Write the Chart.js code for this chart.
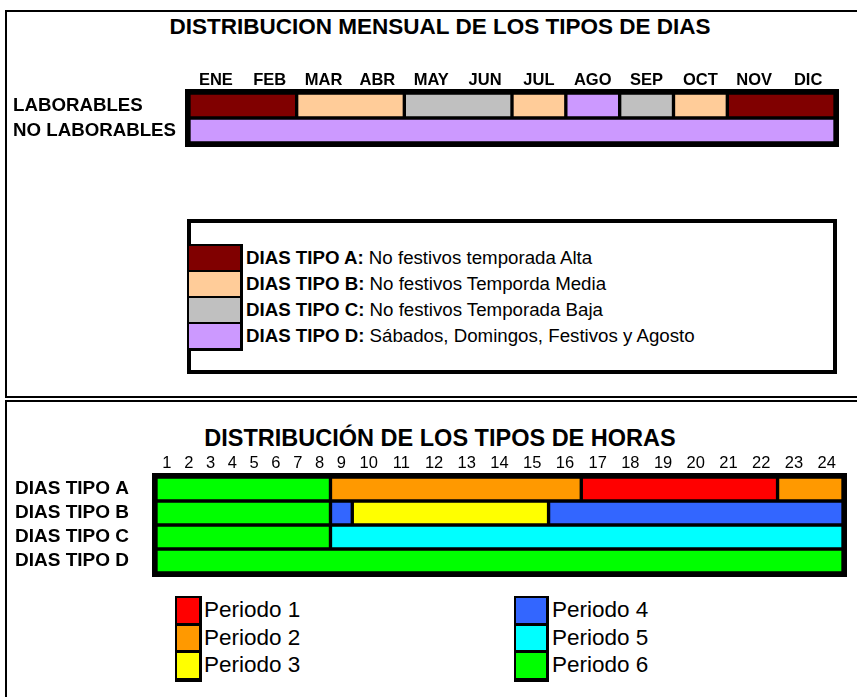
<!DOCTYPE html>
<html>
<head>
<meta charset="utf-8">
<script src="https://cdn.jsdelivr.net/npm/chart.js@4"></script>
<style>
  body { margin: 0; width: 857px; height: 697px; overflow: hidden; background: #fff; position: relative;
         font-family: 'Liberation Sans', Arial, sans-serif; }
  .panel { position: absolute; border: 2px solid #000; box-sizing: border-box; }
  canvas { position: absolute; left: 0; }
  .titulo { position: absolute; left: 0; width: 880px; text-align: center; font-weight: bold;
            font-size: 22.5px; line-height: 22.5px; white-space: nowrap; }
  #leyendaDias { position: absolute; left: 187px; top: 219px; width: 650px; height: 155px;
                 border: 4px solid #000; box-sizing: border-box; }
  .columna { position: absolute; background: #000; }
  .muestra { position: absolute; }
  .texto { position: absolute; white-space: nowrap; color: #000; }
</style>
</head>
<body>
<div class="panel" style="left:5px; top:10px; width:900px; height:388px;"></div>
<div class="panel" style="left:5px; top:400px; width:900px; height:400px;"></div>

<div class="titulo" style="top:16px;">DISTRIBUCION MENSUAL DE LOS TIPOS DE DIAS</div>
<canvas id="grafico-dias" width="857" height="160" style="top:0px;"></canvas>
<div id="leyendaDias"></div>
<div id="leyendaDiasItems"></div>

<div class="titulo" style="top:427px; font-size:23.5px; line-height:23.5px;">DISTRIBUCIÓN DE LOS TIPOS DE HORAS</div>
<canvas id="grafico-horas" width="857" height="190" style="top:400px;"></canvas>
<div id="leyendaHoras"></div>

<script>
// ---- datos: distribucion mensual de los tipos de dias ----
const meses = ['ENE', 'FEB', 'MAR', 'ABR', 'MAY', 'JUN', 'JUL', 'AGO', 'SEP', 'OCT', 'NOV', 'DIC'];
const filasDias = ['LABORABLES', 'NO LABORABLES'];
const tiposDia = ['DIAS TIPO A:', 'DIAS TIPO B:', 'DIAS TIPO C:', 'DIAS TIPO D:'];
const descTiposDia = ['No festivos temporada Alta', 'No festivos Temporda Media',
                      'No festivos Temporada Baja', 'Sábados, Domingos, Festivos y Agosto'];
const coloresDia = ['#800000', '#FFCC99', '#C0C0C0', '#CC99FF'];
// tramos: [fila, mes inicio, mes fin] (meses 1..12, inclusivos)
const tramosTipoA = [['LABORABLES', 1, 2], ['LABORABLES', 11, 12]];
const tramosTipoB = [['LABORABLES', 3, 4], ['LABORABLES', 7, 7], ['LABORABLES', 10, 10]];
const tramosTipoC = [['LABORABLES', 5, 6], ['LABORABLES', 9, 9]];
const tramosTipoD = [['LABORABLES', 8, 8], ['NO LABORABLES', 1, 12]];

// ---- datos: distribucion de los tipos de horas ----
const horas = ['1', '2', '3', '4', '5', '6', '7', '8', '9', '10', '11', '12',
               '13', '14', '15', '16', '17', '18', '19', '20', '21', '22', '23', '24'];
const filasHoras = ['DIAS TIPO A', 'DIAS TIPO B', 'DIAS TIPO C', 'DIAS TIPO D'];
const periodos = ['Periodo 1', 'Periodo 2', 'Periodo 3', 'Periodo 4', 'Periodo 5', 'Periodo 6'];
const coloresPeriodo = ['#FF0000', '#FF9900', '#FFFF00', '#3366FF', '#00FFFF', '#00FF00'];
// tramos: [fila, hora inicio, hora fin] (horas 1..24, inclusivas)
const tramosP1 = [['DIAS TIPO A', 17, 22]];
const tramosP2 = [['DIAS TIPO A', 9, 16], ['DIAS TIPO A', 23, 24]];
const tramosP3 = [['DIAS TIPO B', 10, 15]];
const tramosP4 = [['DIAS TIPO B', 9, 9], ['DIAS TIPO B', 16, 24]];
const tramosP5 = [['DIAS TIPO C', 9, 24]];
const tramosP6 = [['DIAS TIPO A', 1, 8], ['DIAS TIPO B', 1, 8], ['DIAS TIPO C', 1, 8], ['DIAS TIPO D', 1, 24]];

Chart.defaults.font.family = "'Liberation Sans', Arial, sans-serif";
Chart.defaults.color = '#000';

// marco negro grueso alrededor del area de barras
const marcoNegro = {
    id: 'marcoNegro',
    beforeDatasetsDraw(chart) {
        const a = chart.chartArea;
        const ctx = chart.ctx;
        ctx.save();
        ctx.fillStyle = '#000';
        ctx.fillRect(a.left - 4, a.top - 4, a.right - a.left + 8, a.bottom - a.top + 8);
        ctx.restore();
    }
};

const barraBase = {
    borderColor: '#000',
    borderWidth: 2,
    borderSkipped: false,
    barPercentage: 1,
    categoryPercentage: 1,
    grouped: false
};

// grafico 1: meses (cada mes ocupa una unidad del eje)
function tramosMeses(tramos) {
    return tramos.map(t => ({ y: t[0], x: [t[1] - 1, t[2]] }));
}
const tramosDia = [tramosTipoA, tramosTipoB, tramosTipoC, tramosTipoD];

new Chart(document.getElementById('grafico-dias'), {
    type: 'bar',
    data: {
        labels: filasDias,
        datasets: tramosDia.map((t, i) => ({
            ...barraBase,
            label: tiposDia[i],
            data: tramosMeses(t),
            backgroundColor: coloresDia[i]
        }))
    },
    options: {
        indexAxis: 'y',
        responsive: false,
        animation: false,
        layout: { padding: { left: 13, right: 22, top: 0, bottom: 17 } },
        scales: {
            x: {
                type: 'linear', position: 'top', min: 0, max: 12,
                grid: { display: false, drawTicks: false }, border: { display: false },
                afterBuildTicks: axis => { axis.ticks = meses.map((m, i) => ({ value: i + 0.5 })); },
                afterFit: axis => { axis.height = 93; },
                ticks: {
                    autoSkip: false, maxRotation: 0, padding: 3,
                    font: { size: 16.5, weight: 'bold' },
                    callback: (v, i) => meses[i]
                }
            },
            y: {
                type: 'category',
                grid: { display: false, drawTicks: false }, border: { display: false },
                afterFit: axis => { axis.width = 176; },
                ticks: { autoSkip: false, crossAlign: 'far', font: { size: 18.7, weight: 'bold' } }
            }
        },
        plugins: {
            legend: { display: false },
            tooltip: { enabled: false }
        }
    },
    plugins: [marcoNegro]
});

// grafico 2: horas. Cada hora es una columna cuyo ancho depende del largo de su etiqueta
const anchoHora = horas.map(h => h.length + 1);
const bordeHora = [0];
anchoHora.forEach((w, i) => bordeHora.push(bordeHora[i] + w));
function tramosHoras(tramos) {
    return tramos.map(t => ({ y: t[0], x: [bordeHora[t[1] - 1], bordeHora[t[2]]] }));
}
const tramosPeriodo = [tramosP1, tramosP2, tramosP3, tramosP4, tramosP5, tramosP6];

new Chart(document.getElementById('grafico-horas'), {
    type: 'bar',
    data: {
        labels: filasHoras,
        datasets: tramosPeriodo.map((t, i) => ({
            ...barraBase,
            label: periodos[i],
            data: tramosHoras(t),
            backgroundColor: coloresPeriodo[i]
        }))
    },
    options: {
        indexAxis: 'y',
        responsive: false,
        animation: false,
        layout: { padding: { left: 15, right: 14, top: 0, bottom: 17 } },
        scales: {
            x: {
                type: 'linear', position: 'top', min: 0, max: bordeHora[bordeHora.length - 1],
                grid: { display: false, drawTicks: false }, border: { display: false },
                afterBuildTicks: axis => {
                    axis.ticks = horas.map((h, i) => ({ value: bordeHora[i] + anchoHora[i] / 2 }));
                },
                afterFit: axis => { axis.height = 77; },
                ticks: {
                    autoSkip: false, maxRotation: 0, padding: 4,
                    font: { size: 16.5 },
                    callback: (v, i) => horas[i]
                }
            },
            y: {
                type: 'category',
                grid: { display: false, drawTicks: false }, border: { display: false },
                afterFit: axis => { axis.width = 141; },
                ticks: { autoSkip: false, crossAlign: 'far', font: { size: 19, weight: 'bold' } }
            }
        },
        plugins: {
            legend: { display: false },
            tooltip: { enabled: false }
        }
    },
    plugins: [marcoNegro]
});

// leyendas (cajas de color con texto)
function leyenda(contenedor, x, y, ancho, alto, paso, colores, textos, xTexto, fuente) {
    const cont = document.getElementById(contenedor);
    const col = document.createElement('div');
    col.className = 'columna';
    col.style.cssText = `left:${x - 2}px; top:${y - 2}px; width:${ancho + 5}px; height:${paso * colores.length + 3}px;`;
    cont.appendChild(col);
    colores.forEach((c, i) => {
        const m = document.createElement('div');
        m.className = 'muestra';
        m.style.cssText = `left:${x}px; top:${y + i * paso}px; width:${ancho}px; height:${alto}px; background:${c};`;
        cont.appendChild(m);
        const t = document.createElement('div');
        t.className = 'texto';
        t.style.cssText = `left:${xTexto}px; top:${y + i * paso}px; height:${alto}px; line-height:${alto}px; font-size:${fuente}px;`;
        t.innerHTML = textos[i];
        cont.appendChild(t);
    });
}

leyenda('leyendaDiasItems', 189, 246, 51, 24, 26, coloresDia,
    tiposDia.map((t, i) => `<b>${t}</b> ${descTiposDia[i]}`), 246, 18.7);
leyenda('leyendaHoras', 177, 598, 22, 24.5, 27.5, coloresPeriodo.slice(0, 3), periodos.slice(0, 3), 204, 22.5);
leyenda('leyendaHoras', 516, 598, 30, 24.5, 27.5, coloresPeriodo.slice(3), periodos.slice(3), 552, 22.5);
</script>
</body>
</html>
